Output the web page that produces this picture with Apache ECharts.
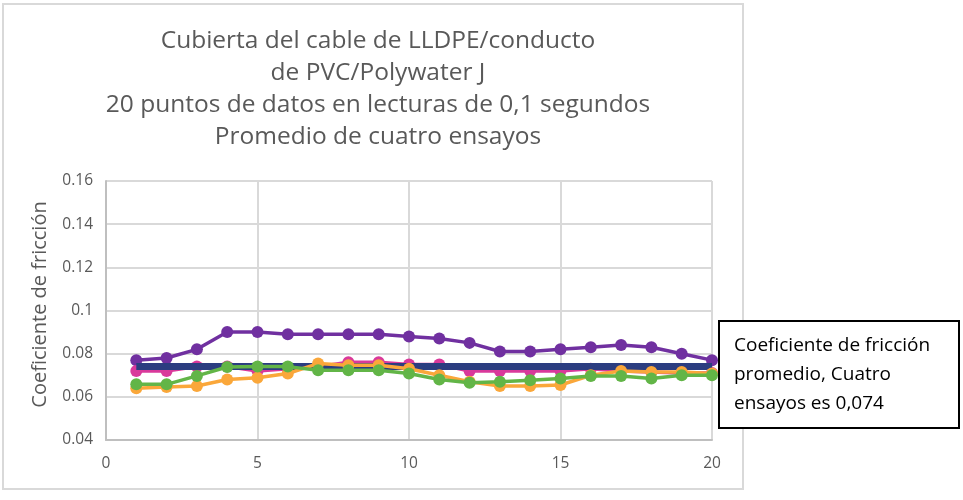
<!DOCTYPE html>
<html><head><meta charset="utf-8">
<script src="https://cdn.jsdelivr.net/npm/echarts@6/dist/echarts.min.js"></script>
<style>html,body{margin:0;padding:0;background:#fff}#c{width:963px;height:500px}</style>
</head><body><div id="c"></div>
<script>
const xs = [1,2,3,4,5,6,7,8,9,10,11,12,13,14,15,16,17,18,19,20];
const purple = [0.077,0.078,0.082,0.090,0.090,0.089,0.089,0.089,0.089,0.088,0.087,0.085,0.081,0.081,0.082,0.083,0.084,0.083,0.080,0.077];
const magenta = [0.072,0.072,0.074,0.074,0.072,0.073,0.074,0.076,0.076,0.075,0.075,0.072,0.072,0.072,0.072,0.073,0.072,0.0715,0.071,0.071];
const orange = [0.064,0.0646,0.065,0.068,0.0688,0.0708,0.0754,0.0746,0.0746,0.073,0.070,0.067,0.065,0.065,0.0655,0.070,0.072,0.0715,0.0715,0.0708];
const green = [0.0658,0.0658,0.0697,0.0738,0.074,0.074,0.0723,0.0723,0.0723,0.0708,0.068,0.0665,0.067,0.0677,0.0685,0.0697,0.0697,0.0685,0.070,0.070];
const average = [0.074,0.074,0.074,0.074,0.074,0.074,0.074,0.074,0.074,0.074,0.074,0.074,0.074,0.074,0.074,0.074,0.074,0.074,0.074,0.074];
const titleLines = ['Cubierta del cable de LLDPE/conducto','de PVC/Polywater J','20 puntos de datos en lecturas de 0,1 segundos','Promedio de cuatro ensayos'];
const yName = 'Coeficiente de fricción';
const boxText = ['Coeficiente de fricción','promedio, Cuatro','ensayos es 0,074'];

const font = '"Open Sans", "Noto Sans", sans-serif';
const pair = a => xs.map((x,i)=>[x,a[i]]);
function ser(data,color,z){
  return {type:'line',data:pair(data),symbol:'circle',symbolSize:12,z:z,
    lineStyle:{color:color,width:3.5},itemStyle:{color:color},emphasis:{disabled:true}};
}
const chart = echarts.init(document.getElementById('c'),null,{renderer:'canvas'});
chart.setOption({
  animation:false,
  backgroundColor:'#fff',
  title:{text:titleLines.join('\n'),left:373,textAlign:'center',top:20,
    textStyle:{fontFamily:font,fontSize:24.5,fontWeight:'normal',color:'#595959',lineHeight:32}},
  grid:{left:106,right:251,top:181,bottom:60},
  xAxis:{type:'value',min:0,max:20,interval:5,
    axisLine:{show:true,lineStyle:{color:'#BFBFBF',width:2}},axisTick:{show:false},
    splitLine:{show:true,lineStyle:{color:'#D9D9D9',width:2}},
    axisLabel:{color:'#595959',fontSize:15.5,fontFamily:font,margin:16}},
  yAxis:{type:'value',min:0.04,max:0.16,interval:0.02,
    name:yName,nameLocation:'middle',nameGap:56,
    nameTextStyle:{color:'#595959',fontSize:20,fontFamily:font,padding:[0,0,0,12]},
    axisLine:{show:true,lineStyle:{color:'#BFBFBF',width:2}},axisTick:{show:false},
    splitLine:{show:true,lineStyle:{color:'#D9D9D9',width:2}},
    axisLabel:{color:'#595959',fontSize:15.5,fontFamily:font,margin:13,
      formatter:v=>String(parseFloat(v.toFixed(2)))}},
  series:[
    ser(purple,'#7030A0',2),
    ser(magenta,'#D9399B',3),
    {type:'line',data:pair(average),showSymbol:false,z:4,
      lineStyle:{color:'#2B3D80',width:7},emphasis:{disabled:true}},
    ser(orange,'#FAA73A',5),
    ser(green,'#62B547',6)
  ],
  graphic:[
    {type:'rect',shape:{x:3,y:4,width:740,height:485},z:-10,
      style:{fill:null,stroke:'#D9D9D9',lineWidth:2}},
    {type:'rect',shape:{x:719,y:321,width:240,height:107},z:100,
      style:{fill:'#fff',stroke:'#000',lineWidth:2}},
    {type:'text',x:734,y:331,z:101,
      style:{text:boxText.join('\n'),fill:'#000',fontSize:19,fontFamily:font,lineHeight:29}}
  ]
});
</script></body></html>
